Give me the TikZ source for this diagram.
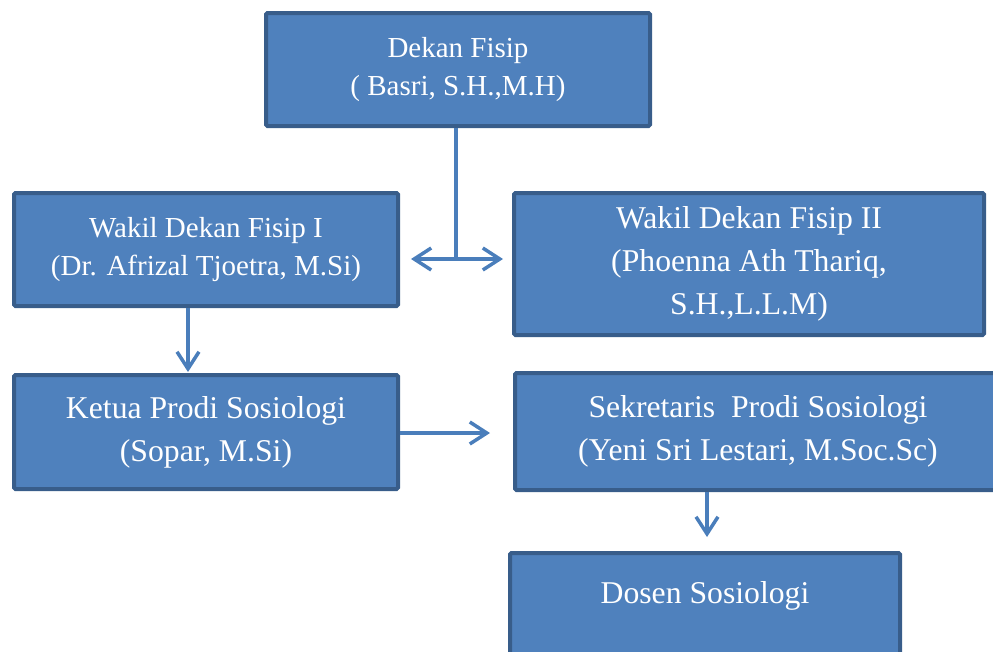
\documentclass[tikz,border=0pt]{standalone}
\usepackage{fontspec}
\setmainfont{Liberation Serif}
\usetikzlibrary{arrows.meta}
\definecolor{boxfill}{HTML}{4F81BD}
\definecolor{boxline}{HTML}{385D8A}
\definecolor{arrowline}{HTML}{4A7EBB}

\begin{document}
\begin{tikzpicture}[x=1pt,y=-1pt,
  >={Straight Barb[length=17pt,width=22pt]},
  jabatan/.style={draw=boxline,fill=boxfill,line width=4pt,rounded corners=1.5pt,
    text=white,align=center,inner sep=0pt},
  kecil/.style={font=\fontsize{29}{38}\selectfont},
  besar/.style={font=\fontsize{31.7}{43}\selectfont},
  panah/.style={draw=arrowline,line width=3.5pt,->}]
  \clip (0,0) rectangle (993,651);
  \node[jabatan,kecil,minimum width=384pt,minimum height=113pt] (dekan) at (458,69.5)
    {Dekan Fisip\\( Basri, S.H.,M.H)};
  \node[jabatan,kecil,minimum width=384pt,minimum height=113pt] (wakil1) at (206,249.5)
    {Wakil Dekan Fisip I\\(Dr. Afrizal Tjoetra, M.Si)};
  \node[jabatan,besar,minimum width=470pt,minimum height=142pt] (wakil2) at (749,264)
    {Wakil Dekan Fisip II\\(Phoenna Ath Thariq,\\S.H.,L.L.M)};
  \node[jabatan,besar,minimum width=384pt,minimum height=114pt] (ketua) at (206,432)
    {Ketua Prodi Sosiologi\\(Sopar, M.Si)};
  \node[jabatan,besar,minimum width=486pt,minimum height=117pt] (sekretaris) at (758,431.5)
    {Sekretaris\ \ Prodi Sosiologi\\(Yeni Sri Lestari, M.Soc.Sc)};
  \node[jabatan,besar,minimum width=390pt,minimum height=121pt,anchor=north] (dosen) at (705,551)
    {Dosen Sosiologi\\\mbox{}};
  \coordinate (simpang) at (456,259);
  \coordinate (kiri) at (411,259);
  \coordinate (kanan) at (503,259);
  \coordinate (ujungsek) at (490,433);
  \coordinate (ujungdosen) at (707,537);
  \draw[draw=arrowline,line width=3.5pt] (dekan.south -| simpang) -- (simpang);
  \draw[panah,<->] (kiri) -- (kanan);
  \draw[panah] ([xshift=-18pt]wakil1.south) -- ([xshift=-18pt,yshift=1pt]ketua.north);
  \draw[panah] (ketua.east |- ujungsek) -- (ujungsek);
  \draw[panah] (sekretaris.south -| ujungdosen) -- (ujungdosen);
\end{tikzpicture}
\end{document}
